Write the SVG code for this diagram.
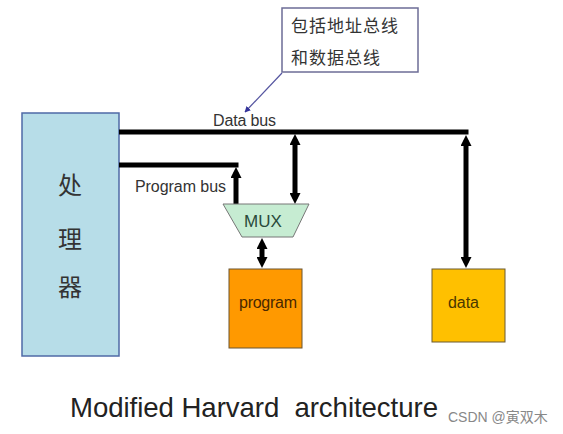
<svg xmlns="http://www.w3.org/2000/svg" width="563" height="434" viewBox="0 0 563 434">
<style>
.lbl{font-family:"Liberation Sans",Arial,sans-serif;font-size:16px;fill:#333}
.cjk{font-family:"Noto Sans CJK SC","Noto Sans",sans-serif}
.bus{stroke:#000;stroke-width:5;fill:none}
.box{font-family:"Liberation Sans",Arial,sans-serif;font-size:16px}
</style>
<defs>
<marker id="ah" viewBox="0 0 10 10" refX="5" refY="5" markerWidth="11" markerHeight="11" markerUnits="userSpaceOnUse" orient="auto-start-reverse">
<path d="M0,0 L10,5 L0,10 z" fill="#000"/>
</marker>
<marker id="sh" viewBox="0 0 10 10" refX="9" refY="5" markerWidth="6" markerHeight="6" markerUnits="userSpaceOnUse" orient="auto">
<path d="M0,0 L10,5 L0,10 z" fill="#33339a"/>
</marker>
</defs>
<rect width="563" height="434" fill="#fff"/>
<g id="callout">
<rect x="282" y="8" width="136" height="64" fill="#fff" stroke="#6c6c96" stroke-width="1.5"/>
<text class="cjk" x="291" y="32" font-size="17" fill="#333" letter-spacing="1">包括地址总线</text>
<text class="cjk" x="291" y="64" font-size="17" fill="#333" letter-spacing="1">和数据总线</text>
<line x1="282" y1="73" x2="245" y2="112" stroke="#5555a0" stroke-width="1.2" marker-end="url(#sh)"/>
</g>
<g id="processor">
<rect x="22" y="113" width="97" height="243" fill="#b7dde8" stroke="#4f6aa6" stroke-width="1.5"/>
<text class="cjk" x="70" y="194" font-size="24" fill="#333" text-anchor="middle">处</text>
<text class="cjk" x="70" y="248" font-size="24" fill="#333" text-anchor="middle">理</text>
<text class="cjk" x="70" y="296" font-size="24" fill="#333" text-anchor="middle">器</text>
</g>
<g id="connectors">
<polyline class="bus" points="119,132 468.5,132"/>
<polyline class="bus" points="119,165 238.5,165"/>
<line class="bus" x1="236" y1="172.5" x2="236" y2="205" marker-start="url(#ah)"/>
<line class="bus" x1="295" y1="139.5" x2="295" y2="198.5" marker-start="url(#ah)" marker-end="url(#ah)"/>
<line class="bus" x1="466" y1="140.5" x2="466" y2="262.5" marker-start="url(#ah)" marker-end="url(#ah)"/>
<line class="bus" x1="262" y1="243.5" x2="262" y2="262.5" marker-start="url(#ah)" marker-end="url(#ah)"/>
<text class="lbl" x="213" y="126" textLength="63">Data bus</text>
<text class="lbl" x="135" y="192" textLength="91">Program bus</text>
</g>
<g id="mux">
<polygon points="223,204 309,204 293,237 242,237" fill="#c6ecd2" stroke="#777" stroke-width="1"/>
<text x="263" y="227" font-family="Liberation Sans,Arial,sans-serif" font-size="17" fill="#2a4a3a" text-anchor="middle">MUX</text>
</g>
<g id="program">
<rect x="229" y="269" width="73" height="79" fill="#ff9900" stroke="#6b5530" stroke-width="1"/>
<text class="box" x="239" y="308" fill="#4a2800" textLength="58">program</text>
</g>
<g id="data">
<rect x="432" y="269" width="73" height="73" fill="#ffc000" stroke="#6b5a30" stroke-width="1"/>
<text class="box" x="448" y="308" fill="#4a3800" textLength="31">data</text>
</g>
<text x="70" y="417" font-family="Liberation Sans,Arial,sans-serif" font-size="27.6" fill="#222" xml:space="preserve" textLength="368">Modified Harvard  architecture</text>
<text x="448" y="422" font-family="Liberation Sans,'Noto Sans CJK SC',sans-serif" font-size="14" fill="#888">CSDN @寅双木</text>
</svg>
